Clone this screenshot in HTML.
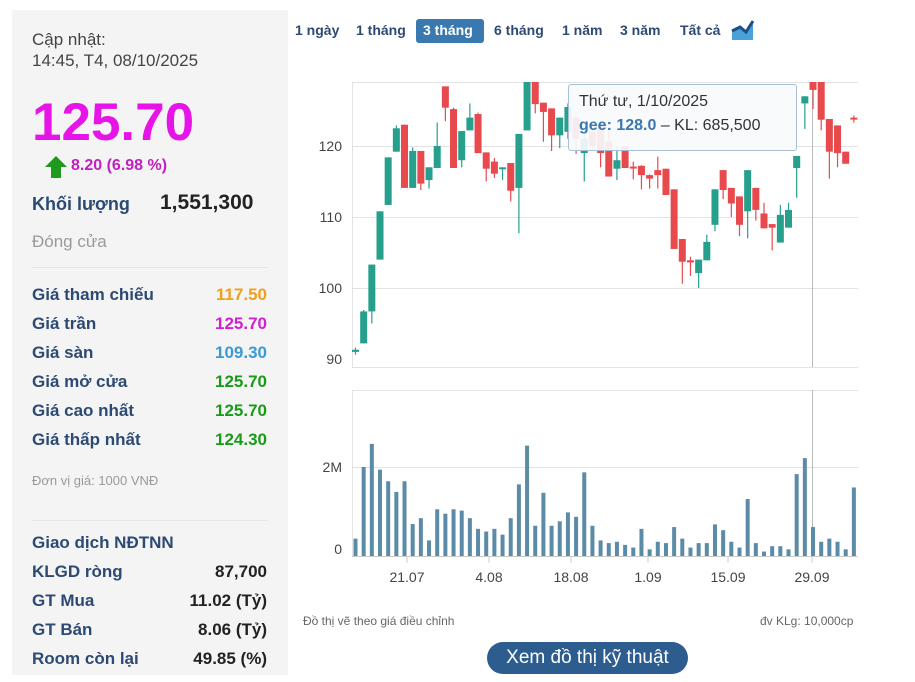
<!DOCTYPE html>
<html><head><meta charset="utf-8"><style>
body{margin:0;width:915px;height:682px;background:#fff;font-family:"Liberation Sans",sans-serif;position:relative;overflow:hidden}
.l{position:absolute;left:12px;top:10px;width:276px;height:665px;background:#f4f4f4}
.a{position:absolute;white-space:nowrap}
.lab{color:#2c4a73;font-weight:bold;font-size:17px;left:32px}
.val{font-weight:bold;font-size:17px;right:648px;text-align:right}
.tb{position:absolute;top:22px;font-size:14px;font-weight:bold;color:#2c4a73}
</style></head><body>
<div class="l"></div>
<div class="a" style="left:32px;top:30px;font-size:17px;color:#444">Cập nhật:</div>
<div class="a" style="left:32px;top:51px;font-size:17px;color:#444">14:45, T4, 08/10/2025</div>
<div class="a" style="left:32px;top:92px;font-size:53px;font-weight:bold;color:#e614e6">125.70</div>
<svg class="a" style="left:44px;top:155px" width="24" height="24"><polygon points="12,1 23,12 17,12 17,23 7,23 7,12 1,12" fill="#1f9a1f"/></svg>
<div class="a" style="left:71px;top:157px;font-size:16px;font-weight:bold;color:#c21fc2">8.20 (6.98 %)</div>
<div class="a lab" style="top:194px;font-size:18px">Khối lượng</div>
<div class="a" style="left:160px;top:191px;font-size:21px;font-weight:bold;color:#222">1,551,300</div>
<div class="a" style="left:32px;top:232px;font-size:17px;color:#999">Đóng cửa</div>
<div class="a" style="left:32px;top:267px;width:236px;border-top:1px solid #e6e6e6"></div>
<div class="a lab" style="top:285px">Giá tham chiếu</div><div class="a val" style="top:285px;color:#f0a020">117.50</div>
<div class="a lab" style="top:314px">Giá trần</div><div class="a val" style="top:314px;color:#d21fd2">125.70</div>
<div class="a lab" style="top:343px">Giá sàn</div><div class="a val" style="top:343px;color:#3a9ad6">109.30</div>
<div class="a lab" style="top:372px">Giá mở cửa</div><div class="a val" style="top:372px;color:#1a9a1a">125.70</div>
<div class="a lab" style="top:401px">Giá cao nhất</div><div class="a val" style="top:401px;color:#1a9a1a">125.70</div>
<div class="a lab" style="top:430px">Giá thấp nhất</div><div class="a val" style="top:430px;color:#1a9a1a">124.30</div>
<div class="a" style="left:32px;top:473px;font-size:13px;color:#999">Đơn vị giá: 1000 VNĐ</div>
<div class="a" style="left:32px;top:520px;width:236px;border-top:1px solid #e6e6e6"></div>
<div class="a lab" style="top:533px">Giao dịch NĐTNN</div>
<div class="a lab" style="top:562px">KLGD ròng</div><div class="a val" style="top:562px;color:#222">87,700</div>
<div class="a lab" style="top:591px">GT Mua</div><div class="a val" style="top:591px;color:#222">11.02 (Tỷ)</div>
<div class="a lab" style="top:620px">GT Bán</div><div class="a val" style="top:620px;color:#222">8.06 (Tỷ)</div>
<div class="a lab" style="top:649px">Room còn lại</div><div class="a val" style="top:649px;color:#222">49.85 (%)</div>

<div class="tb" style="left:295px">1 ngày</div>
<div class="tb" style="left:356px">1 tháng</div>
<div class="a" style="left:416px;top:19px;width:68px;height:24px;background:#3a78b0;border-radius:3px"></div>
<div class="tb" style="left:423px;color:#fff">3 tháng</div>
<div class="tb" style="left:494px">6 tháng</div>
<div class="tb" style="left:562px">1 năm</div>
<div class="tb" style="left:620px">3 năm</div>
<div class="tb" style="left:680px">Tất cả</div>
<svg class="a" style="left:731px;top:19px" width="24" height="22"><polygon points="1,21 1,12 9,8 15,13 22,2 22,21" fill="#4aa0d8"/><polyline points="1,12 9,8 15,13 22,2" stroke="#1d4f8a" stroke-width="3" fill="none"/></svg>

<svg id="c" class="a" style="left:0;top:0" width="915" height="682"></svg>
<div class="a" style="left:303px;top:614px;font-size:12px;color:#666">Đồ thị vẽ theo giá điều chỉnh</div>
<div class="a" style="left:760px;top:614px;font-size:12px;color:#666">đv KLg: 10,000cp</div>
<div class="a" style="left:487px;top:642px;width:201px;height:32px;background:#2d5c8f;border-radius:16px;color:#fff;font-size:19px;text-align:center;line-height:32px">Xem đồ thị kỹ thuật</div>
<div class="a" style="left:568px;top:84px;width:227px;height:65px;background:rgba(247,250,252,.92);border:1px solid #a8bfd6;border-radius:3px"></div>
<div class="a" style="left:579px;top:93px;font-size:16px;color:#333">Thứ tư, 1/10/2025</div>
<div class="a" style="left:579px;top:117px;font-size:16px;color:#333"><b style="color:#3a78b0">gee: 128.0</b> – KL: 685,500</div>
<script>
var C=[[91,91.3,91.6,90.6],[92.2,96.7,96.9,92.2],[96.7,103.3,103.3,95],[104,110.8,110.8,104],[111.7,118.4,118.4,111.7],[119.2,122.5,122.9,119.2],[123,114.1,123,114.1],[114.1,119.3,119.8,114.1],[119.3,114.7,119.3,113.8],[115.2,117,117,114],[116.9,120,123.3,116.9],[128.4,125.4,128.4,123.5],[125.2,116.9,125.4,116.9],[118,122.1,122.1,117],[122.2,124,126,122.2],[124.5,119,124.7,119],[119.1,116.8,119.1,115],[117.8,116.1,118.3,115.5],[116.9,117,117,115.2],[117.6,113.7,117.6,112.2],[114.1,121.7,121.7,107.7],[122.2,129.9,129.9,122.2],[130.2,125.9,130.2,124.6],[126.1,124.8,126.1,120.6],[125.3,121.5,125.3,119.3],[121.5,124,124,119.7],[122,125.5,126,121],[124,121,124.5,118.9],[119,121,121.5,115],[122,120,122.5,119.5],[123,119,123.5,117],[120.6,115.7,122,115.7],[116.8,118,120,115.2],[120,116.9,120,116.9],[117.1,116.9,117.8,115.3],[117.2,115.9,117.3,113.9],[115.9,115.4,116,114],[116.6,115.9,118.5,114],[116.8,113.1,116.8,113.1],[113.9,105.5,113.9,105.5],[106.9,103.7,106.9,100.6],[103.9,103.6,104.4,101.7],[102.1,104,104,100],[103.9,106.5,107.5,103.9],[108.9,113.9,113.9,108],[116.6,113.8,116.6,112.5],[114.1,111.9,114.1,110],[112.9,108.9,112.9,107.3],[110.8,116.6,116.6,107],[114.1,111,114.1,109.5],[110.5,108.4,112,108.4],[109,108.5,109,105.3],[106.4,110.3,111.7,106.4],[108.5,111,112,108.5],[116.9,118.6,118.6,112.7],[126,127,127,122.4],[130,127.9,130,125.2],[130,123.7,130,122.2],[123.8,119.2,123.8,115.4],[122.9,119,122.9,117],[119.2,117.5,119.2,117.5],[124,123.8,124.3,123.3]];
var V=[.39,2,2.52,1.94,1.68,1.44,1.68,.72,.85,.35,1.05,.95,1.05,1.02,.85,.61,.55,.61,.48,.85,1.61,2.48,.68,1.42,.68,.78,.98,.88,1.88,.68,.35,.29,.32,.25,.19,.61,.15,.32,.29,.65,.39,.19,.29,.29,.71,.58,.32,.19,1.28,.29,.1,.22,.22,.15,1.84,2.2,.65,.32,.39,.32,.15,1.54];
var s='<defs><clipPath id="k"><rect x="352" y="82" width="506" height="286"/></clipPath></defs>';
s+='<g stroke="#e3e3e3" stroke-width="1">';
[82,146,217,288].forEach(function(y){s+='<line x1="352" x2="858" y1="'+(y+.5)+'" y2="'+(y+.5)+'"/>'});
s+='<line x1="352" x2="858" y1="367.5" y2="367.5"/><line x1="352" x2="858" y1="390.5" y2="390.5"/><line x1="352" x2="858" y1="467.5" y2="467.5"/>';
s+='<line x1="352.5" x2="352.5" y1="82" y2="367"/><line x1="352.5" x2="352.5" y1="390" y2="556"/></g>';
s+='<line x1="352" x2="858" y1="556.5" y2="556.5" stroke="#ccc"/>';
var ly=[[146,'120'],[217,'110'],[288,'100'],[359,'90']];
ly.forEach(function(t){s+='<text x="342" y="'+(t[0]+5)+'" text-anchor="end" font-size="14" fill="#444" font-family="Liberation Sans">'+t[1]+'</text>'});
s+='<text x="342" y="472" text-anchor="end" font-size="14" fill="#444" font-family="Liberation Sans">2M</text>';
s+='<text x="342" y="554" text-anchor="end" font-size="14" fill="#444" font-family="Liberation Sans">0</text>';
[[407,'21.07'],[489,'4.08'],[571,'18.08'],[648,'1.09'],[728,'15.09'],[812,'29.09']].forEach(function(t){
s+='<line x1="'+t[0]+'" x2="'+t[0]+'" y1="556" y2="563" stroke="#ccc"/><text x="'+t[0]+'" y="582" text-anchor="middle" font-size="14" fill="#444" font-family="Liberation Sans">'+t[1]+'</text>'});
function Y(p){return 146-(p-120)*7.1}
s+='<line x1="812.5" x2="812.5" y1="82" y2="367" stroke="#bbb"/><line x1="812.5" x2="812.5" y1="390" y2="556" stroke="#bbb"/>';
s+='<g clip-path="url(#k)">';
C.forEach(function(c,i){var x=355.5+i*8.17,col=c[1]>=c[0]?'#26a08c':'#e8494c';
var t=Y(Math.max(c[0],c[1])),b=Y(Math.min(c[0],c[1]));if(b-t<2)b=t+2;
s+='<line x1="'+x+'" x2="'+x+'" y1="'+Y(c[2])+'" y2="'+Y(c[3])+'" stroke="'+col+'" stroke-width="1.2"/>';
s+='<rect x="'+(x-3.5)+'" y="'+t+'" width="7" height="'+(b-t)+'" fill="'+col+'"/>';});
s+='</g>';
V.forEach(function(v,i){var x=355.5+i*8.17,h=v*44.5;s+='<rect x="'+(x-2)+'" y="'+(556-h)+'" width="4" height="'+h+'" fill="#5b8ba6"/>';});
document.getElementById('c').innerHTML=s;
</script>
</body></html>
